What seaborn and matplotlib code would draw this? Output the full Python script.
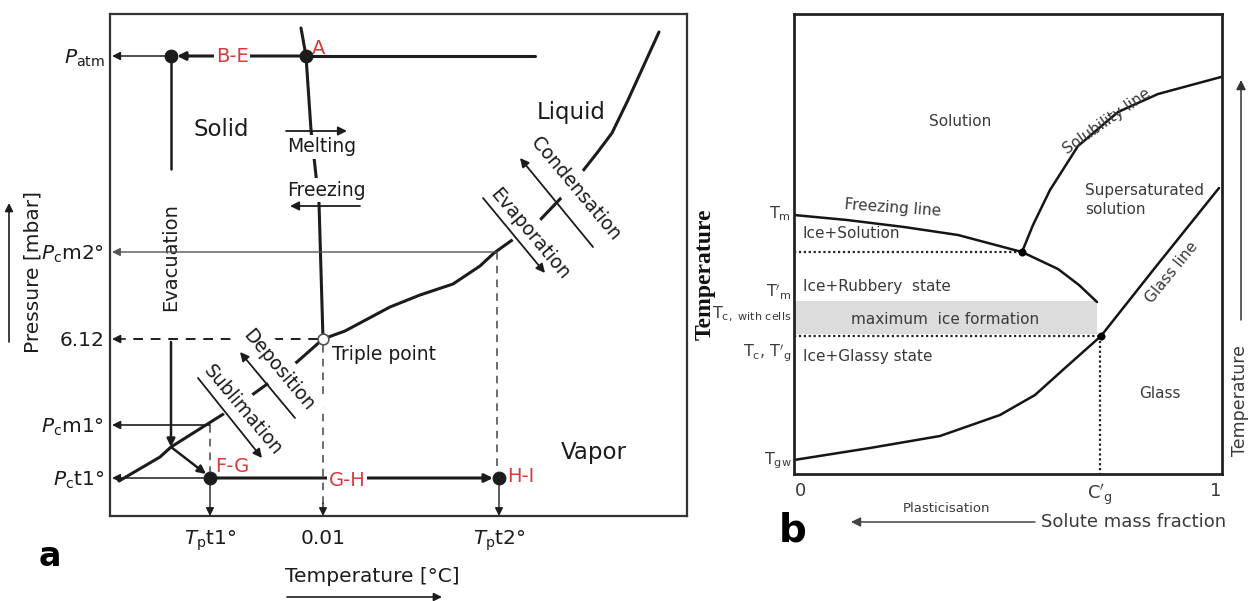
import matplotlib
matplotlib.use("Agg")
import matplotlib.pyplot as plt
import seaborn as sns

# ------------------------------------------------------------------
# DATA (schematic diagram coordinates)
# ------------------------------------------------------------------
# Panel a : phase diagram of water  (T position, P position; P grows upward)
melt_T = [301, 306, 311, 319, 323]
melt_P = [28, 56, 130, 203, 339]
vap_T = [323, 345, 390, 420, 453, 480, 494, 515, 540, 562, 582, 597, 612, 628, 659]
vap_P = [339, 331, 307, 295, 284, 266, 253, 238, 220, 197, 172, 153, 133, 100, 32]
sub_T = [323, 297, 270, 252, 225, 171, 160, 119]
sub_P = [339, 362, 382, 395, 413, 447, 457, 481]

p_ticks = [56, 252, 339, 425, 478]
p_labels = [r"$P_{\mathrm{atm}}$", r"$P_{\mathrm{c}}$m2°", "6.12",
            r"$P_{\mathrm{c}}$m1°", r"$P_{\mathrm{c}}$t1°"]
t_ticks = [210, 323, 499]
t_labels = [r"$T_{\mathrm{p}}$t1°", "0.01", r"$T_{\mathrm{p}}$t2°"]

point_T = [171, 306, 210, 499]          # B, A, F-G, H-I
point_P = [56, 56, 478, 478]
triple_T, triple_P = 323, 339

state_names = ["Solid", "Liquid", "Vapor"]
state_T = [221, 571, 594]
state_P = [130, 112, 453]

step_labels = ["B-E", "A", "F-G", "G-H", "H-I"]
step_T = [232, 319, 232, 347, 521]
step_P = [57, 49, 466, 480, 476]

transitions = ["Melting", "Freezing", "Condensation", "Evaporation", "Deposition", "Sublimation"]
trans_T = [322, 326, 576, 530, 279, 243]
trans_P = [147, 190, 189, 234, 370, 410]
trans_rot = [0, 0, -50, -50, -50, -50]
trans_arrow_from = [(286, 131), (360, 206), (593, 247), (483, 198), (295, 418), (198, 378)]
trans_arrow_to = [(347, 131), (290, 206), (520, 158), (545, 273), (240, 352), (262, 458)]

# Panel b : state diagram (solute mass fraction position, temperature position)
freeze_c = [794, 847, 904, 958, 1022, 1058, 1079, 1097]
freeze_T = [215, 220, 227, 235, 252, 269, 285, 302]
sol_c = [1022, 1033, 1050, 1078, 1118, 1158, 1221]
sol_T = [252, 225, 190, 146, 112, 94, 77]
glass_c = [794, 870, 940, 1000, 1035, 1065, 1101, 1154, 1219]
glass_T = [460, 448, 436, 415, 395, 368, 336, 269, 188]
eut_c, eut_T = 1022, 252          # freezing / solubility junction
cg_c, tg_T = 1101, 336            # C'g , T'g point
band_c = [794, 1097]
band_T = (301, 334)

b_yticks = [211, 289, 311, 349, 457]
b_ylabels = [r"$\mathrm{T_m}$", r"$\mathrm{T'_m}$", r"$\mathrm{T_{c,\ with\ cells}}$",
             r"$\mathrm{T_c}$, $\mathrm{T'_g}$", r"$\mathrm{T_{gw}}$"]
b_xticks = [800, 1100, 1216]
b_xlabels = ["0", r"$\mathrm{C'_g}$", "1"]

region_b = ["Solution", "Ice+Solution", "Ice+Rubbery  state", "maximum  ice formation",
            "Ice+Glassy state", "Supersaturated\nsolution", "Glass"]
region_b_c = [960, 803, 803, 945, 803, 1085, 1160]
region_b_T = [121, 234, 287, 319, 357, 200, 394]
region_b_ha = ["center", "left", "left", "center", "left", "left", "center"]

line_names_b = ["Freezing line", "Solubility line", "Glass line"]
line_names_c = [893, 1107, 1172]
line_names_T = [208, 121, 272]
line_names_rot = [-4, 35, 51]

# ------------------------------------------------------------------
sns.set_theme(style="white")
plt.rcParams["font.family"] = ["DejaVu Sans"]
plt.rcParams["mathtext.fontset"] = "dejavusans"

W, H = 1250, 601
fig = plt.figure(figsize=(12.5, 6.01), dpi=100)
ax_a = fig.add_axes([110 / W, (H - 516) / H, 577 / W, 502 / H])
ax_b = fig.add_axes([794 / W, (H - 474) / H, 428 / W, 460 / H])

RED = "#d93a3a"
INK = "#1c1c1c"
GREY_TXT = "#3a3a3a"


def arrow(ax, start, end, lw=1.2, color=INK, ms=12, z=4):
    ax.annotate("", xy=end, xytext=start, annotation_clip=False, zorder=z,
                arrowprops=dict(arrowstyle="-|>", lw=lw, color=color,
                                mutation_scale=ms, shrinkA=0, shrinkB=0))


DASH = (0, (5, 4))

# ============================ panel a =============================
ax = ax_a
ax.set_xlim(110, 687)
ax.set_ylim(516, 14)
lk = dict(ax=ax, sort=False, estimator=None, color=INK, legend=False)
sns.lineplot(x=melt_T, y=melt_P, lw=2.2, zorder=2, **lk)
sns.lineplot(x=vap_T, y=vap_P, lw=2.2, zorder=2, **lk)
sns.lineplot(x=sub_T, y=sub_P, lw=2.2, zorder=2, **lk)

B = (point_T[0], point_P[0])
A = (point_T[1], point_P[1])
FG = (point_T[2], point_P[2])
HI = (point_T[3], point_P[3])
left_edge, bottom_edge = 112, 516

# P_atm line
arrow(ax, B, (left_edge, B[1]), lw=1.1)
arrow(ax, A, (B[0] + 6, B[1]), lw=2.2)
ax.plot([A[0], 535], [A[1], A[1]], color=INK, lw=2.2, zorder=2)
# evacuation
ax.plot([B[0], B[0]], [B[1], 169], color=INK, lw=1.8, zorder=2)
arrow(ax, (B[0], 342), (B[0], 447), lw=1.8)
arrow(ax, (B[0], 447), (FG[0] - 4, FG[1] - 4), lw=1.8)
# P_c m2
arrow(ax, (497, p_ticks[1]), (left_edge, p_ticks[1]), lw=1.0, color="#555555")
ax.plot([497, 497], [p_ticks[1], HI[1] - 6], color="#444444", lw=1.1, ls=DASH, zorder=1)
# 6.12 triple line
ax.plot([triple_T - 5, 125], [triple_P, triple_P], color=INK, lw=1.4, ls=DASH, zorder=1)
arrow(ax, (125, triple_P), (left_edge, triple_P), lw=1.2)
ax.plot([triple_T, triple_T], [triple_P + 6, 505], color="#444444", lw=1.1, ls=DASH, zorder=1)
arrow(ax, (triple_T, 503), (triple_T, bottom_edge), lw=1.0)
# P_c m1
arrow(ax, (FG[0], p_ticks[3]), (left_edge, p_ticks[3]), lw=1.2)
ax.plot([FG[0], FG[0]], [p_ticks[3], FG[1] - 6], color="#444444", lw=1.1, ls=DASH, zorder=1)
# P_c t1 and drying step
arrow(ax, FG, (left_edge, FG[1]), lw=1.1)
arrow(ax, FG, (HI[0] - 6, HI[1]), lw=2.2)
arrow(ax, FG, (FG[0], bottom_edge), lw=1.0)
arrow(ax, HI, (HI[0], bottom_edge), lw=1.0)

sns.scatterplot(x=point_T, y=point_P, s=85, color=INK, edgecolor=INK, zorder=6, ax=ax, legend=False)
ax.scatter([triple_T], [triple_P], s=60, facecolor="white", edgecolor="#555555", lw=1.2, zorder=6)

# transition labels + their arrows
for name, tx, ty, rot, a0, a1 in zip(transitions, trans_T, trans_P, trans_rot,
                                     trans_arrow_from, trans_arrow_to):
    pad = 0.15 if rot == 0 else 0.4
    ax.text(tx, ty, name, fontsize=13.5, rotation=rot, rotation_mode="anchor",
            ha="center", va="center", color=INK, zorder=3,
            bbox=dict(boxstyle=f"square,pad={pad}", fc="white", ec="none"))
    arrow(ax, a0, a1, lw=1.3, ms=13, z=5)

ax.text(B[0], 257, "Evacuation", rotation=90, fontsize=14, ha="center", va="center",
        color=INK, zorder=3, bbox=dict(boxstyle="square,pad=0.15", fc="white", ec="none"))

for name, tx, ty in zip(state_names, state_T, state_P):
    ax.text(tx, ty, name, fontsize=16.5, ha="center", va="center", color=INK)
ax.text(332, 355, "Triple point", fontsize=13.5, ha="left", va="center", color=INK)

for name, tx, ty in zip(step_labels, step_T, step_P):
    box = dict(boxstyle="square,pad=0.1", fc="white", ec="none") if name in ("B-E", "G-H") else None
    ax.text(tx, ty, name, fontsize=14, ha="center", va="center", color=RED, zorder=5, bbox=box)

ax.set_yticks(p_ticks)
ax.set_yticklabels(p_labels, fontsize=14.5, color=INK)
ax.set_xticks(t_ticks)
ax.set_xticklabels(t_labels, fontsize=14.5, color=INK)
ax.tick_params(axis="y", length=0, pad=4)
ax.tick_params(axis="x", length=0, pad=9)
ax.set_ylabel("Pressure [mbar]", fontsize=14.5, color=INK, va="center")
ax.yaxis.set_label_coords((33 - 110) / 577, (516 - 272) / 502)
ax.set_xlabel("Temperature [°C]", fontsize=14.5, color=INK, va="center")
ax.xaxis.set_label_coords((372 - 110) / 577, -(577 - 516) / 502)
arrow(ax, (9, 342), (9, 203), lw=1.2)
arrow(ax, (287, 597), (442, 597), lw=1.2)
ax.text(50, 556, "a", fontsize=24, fontweight="bold", ha="center", va="center", color="black")
for s in ax.spines.values():
    s.set_linewidth(1.6)
    s.set_color("#333333")

# ============================ panel b =============================
ax = ax_b
ax.set_xlim(794, 1222)
ax.set_ylim(474, 14)
lk = dict(ax=ax, sort=False, estimator=None, color="#151515", legend=False)
ax.fill_between(band_c, band_T[0], band_T[1], color="#dcdcdc", lw=0, zorder=0)
sns.lineplot(x=freeze_c, y=freeze_T, lw=1.8, zorder=2, **lk)
sns.lineplot(x=sol_c, y=sol_T, lw=1.8, zorder=2, **lk)
sns.lineplot(x=glass_c, y=glass_T, lw=1.8, zorder=2, **lk)
DOT = (0, (1, 1.2))
ax.plot([794, eut_c], [eut_T, eut_T], color="#222222", lw=1.6, ls=DOT, zorder=1)
ax.plot([794, cg_c], [tg_T, tg_T], color="#222222", lw=1.6, ls=DOT, zorder=1)
ax.plot([cg_c - 1, cg_c - 1], [tg_T, 474], color="#222222", lw=1.6, ls=DOT, zorder=1)
sns.scatterplot(x=[eut_c, cg_c], y=[eut_T, tg_T], s=28, color="black", edgecolor="black",
                zorder=5, ax=ax, legend=False)

for name, tx, ty, ha in zip(region_b, region_b_c, region_b_T, region_b_ha):
    ax.text(tx, ty, name, fontsize=11, ha=ha, va="center", color=GREY_TXT, linespacing=1.35)
for name, tx, ty, rot in zip(line_names_b, line_names_c, line_names_T, line_names_rot):
    ax.text(tx, ty, name, fontsize=11, ha="center", va="center", rotation=rot,
            rotation_mode="anchor", color=GREY_TXT)

ax.set_yticks(b_yticks)
ax.set_yticklabels(b_ylabels, fontsize=11.5, color=GREY_TXT)
ax.set_xticks(b_xticks)
ax.set_xticklabels(b_xlabels, fontsize=13, color=GREY_TXT)
ax.tick_params(axis="y", length=0, pad=2)
ax.tick_params(axis="x", length=0, pad=6)
ax.set_xlabel("Solute mass fraction", fontsize=13, color=GREY_TXT, va="center")
ax.xaxis.set_label_coords((1134 - 794) / 428, -(522 - 474) / 460)
ax.set_ylabel("Temperature", fontsize=17, fontweight="bold", family="Liberation Serif",
              color="#111111", va="center")
ax.yaxis.set_label_coords((705 - 794) / 428, (474 - 274) / 460)
ax.text(946, 508, "Plasticisation", fontsize=9.5, ha="center", va="center", color=GREY_TXT)
arrow(ax, (1035, 522), (851, 522), lw=1.1, color="#444444", ms=14)
arrow(ax, (1241, 320), (1241, 80), lw=1.1, color="#333333", ms=14)
ax.text(1240, 401, "Temperature", rotation=90, fontsize=12.5, ha="center", va="center", color=GREY_TXT)
ax.text(793, 530, "b", fontsize=28, fontweight="bold", ha="center", va="center", color="black")
for s in ax.spines.values():
    s.set_linewidth(2.0)
    s.set_color("#222222")

fig.savefig("out.png", dpi=100)
